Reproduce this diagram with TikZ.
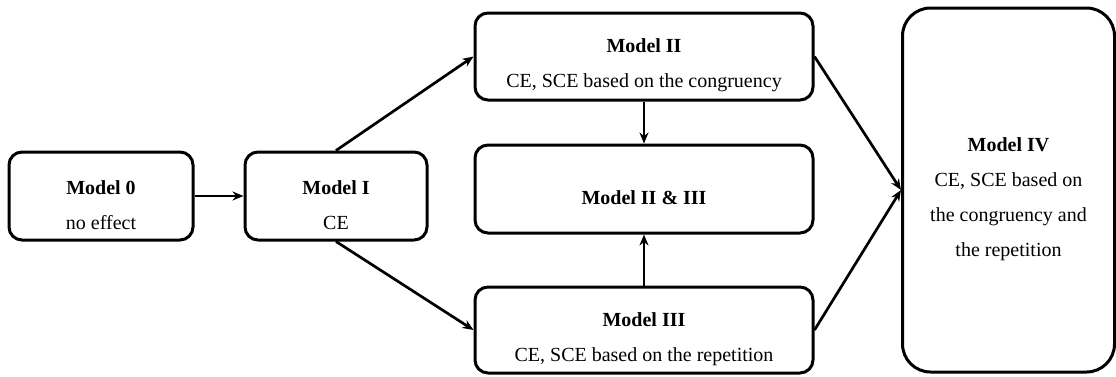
\documentclass[tikz,border=0pt]{standalone}
\usepackage{fontspec}
\setmainfont{Liberation Serif}
\usetikzlibrary{arrows.meta}
\tikzset{
  mbox/.style={draw=black, line width=3pt, rounded corners=13pt, fill=white, inner sep=0pt},
  txt/.style={align=center, inner sep=0pt, font=\fontsize{20}{35}\selectfont, yshift=-9pt},
  conn/.style={line width=2.7pt, -{Stealth[length=11pt,width=9pt]}},
}
\begin{document}
\begin{tikzpicture}[x=1pt,y=-1pt]
\useasboundingbox (0,0) rectangle (1116,376);
\node[mbox, minimum width=184pt, minimum height=88pt] (m0) at (101,196) {};
\node[mbox, minimum width=182pt, minimum height=88pt] (m1) at (336,196) {};
\node[mbox, minimum width=338pt, minimum height=87pt] (m2) at (644,56.5) {};
\node[mbox, minimum width=338pt, minimum height=88pt] (m23) at (644,189) {};
\node[mbox, minimum width=338pt, minimum height=86pt] (m3) at (644,330) {};
\node[mbox, rounded corners=28pt, minimum width=212pt, minimum height=364pt] (m4) at (1008.5,190) {};
\node[txt] (t0) at (m0.center) {\textbf{Model 0}\\no effect};
\node[txt] (t1) at (m1.center) {\textbf{Model I}\\CE};
\node[txt] (t2) at (m2.center) {\textbf{Model II}\\CE, SCE based on the congruency};
\node[txt] (t23) at (m23.center) {\textbf{Model II \& III}};
\node[txt] (t3) at (m3.center) {\textbf{Model III}\\CE, SCE based on the repetition};
\node[txt] (t4) at (m4.center) {\textbf{Model IV}\\CE, SCE based on\\the congruency and\\the repetition};
\draw[conn] (m0) -- (m1);
\draw[conn] (m1.north) -- (m2.west);
\draw[conn] (m1.south) -- (m3.west);
\draw[conn] (m2) -- (m23);
\draw[conn] (m3) -- (m23);
\draw[conn] (m2.east) -- (m4.west);
\draw[conn] (m3.east) -- (m4.west);
\end{tikzpicture}
\end{document}
